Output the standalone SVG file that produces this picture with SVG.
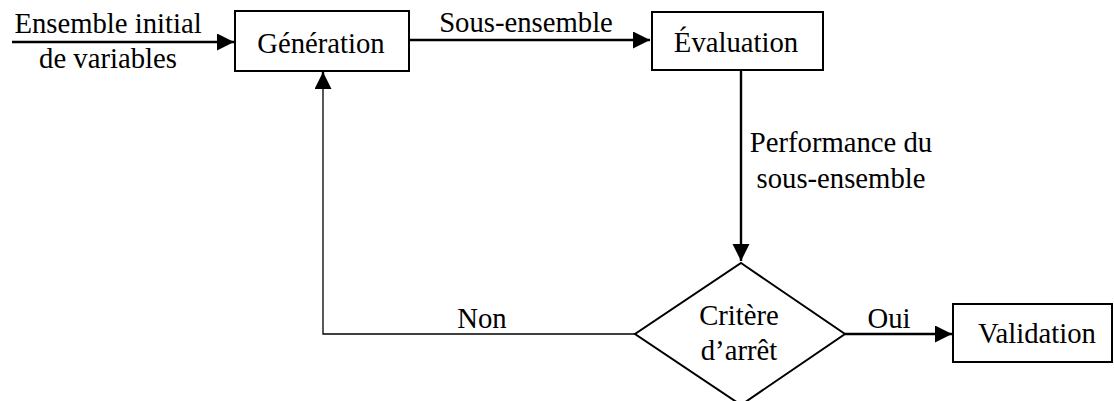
<svg xmlns="http://www.w3.org/2000/svg" width="1114" height="401" viewBox="0 0 1114 401">
<style>
.box{fill:#fff;stroke:#000;stroke-width:2}
.t{font-family:"Liberation Serif","Times New Roman",serif;font-size:28.7px;fill:#000;text-anchor:middle}
.c{fill:none;stroke:#000;stroke-width:2.4}
.thin{fill:none;stroke:#000;stroke-width:1.3}
</style>
<defs>
<marker id="ah" markerUnits="userSpaceOnUse" markerWidth="18" markerHeight="18" refX="17" refY="8.5" orient="auto">
<path d="M0,0 L17,8.5 L0,17 Z" fill="#000"/>
</marker>
</defs>
<rect width="1114" height="401" fill="#fff"/>
<g id="connectors">
<line class="c" x1="12" y1="42" x2="234" y2="42" marker-end="url(#ah)"/>
<text class="t" x="108" y="33">Ensemble initial</text>
<text class="t" x="108" y="68">de variables</text>
<line class="c" x1="409" y1="40" x2="650" y2="40" marker-end="url(#ah)"/>
<text class="t" x="526" y="32">Sous-ensemble</text>
<line class="c" x1="741" y1="70" x2="741" y2="261" marker-end="url(#ah)"/>
<text class="t" x="841" y="152">Performance du</text>
<text class="t" x="841" y="188">sous-ensemble</text>
<line class="c" x1="845" y1="334" x2="952" y2="334" marker-end="url(#ah)"/>
<text class="t" x="889" y="328">Oui</text>
<polyline class="thin" points="635,334 323,334 323,88"/>
<line class="c" x1="323" y1="89" x2="323" y2="72" marker-end="url(#ah)"/>
<text class="t" x="482" y="328">Non</text>
</g>
<g id="generation">
<rect class="box" x="235" y="11" width="174" height="60"/>
<text class="t" x="321" y="53">Génération</text>
</g>
<g id="evaluation">
<rect class="box" x="652" y="12" width="171" height="58"/>
<text class="t" x="736" y="52">Évaluation</text>
</g>
<g id="critere">
<polygon class="box" points="741,263 845,334 741,405 635,334"/>
<text class="t" x="739" y="325">Critère</text>
<text class="t" x="739" y="360">d’arrêt</text>
</g>
<g id="validation">
<rect class="box" x="953" y="304" width="159" height="58"/>
<text class="t" x="1037" y="343">Validation</text>
</g>
</svg>
